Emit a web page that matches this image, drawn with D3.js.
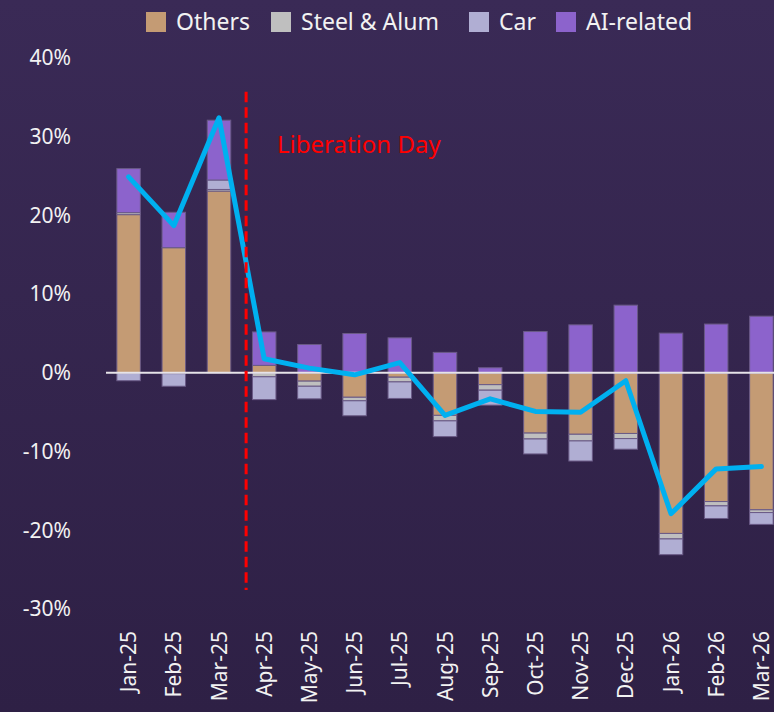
<!DOCTYPE html>
<html>
<head>
<meta charset="utf-8">
<script src="https://cdn.jsdelivr.net/npm/d3@7"></script>
<style>
  html, body { margin: 0; padding: 0; background: #33244d; }
  svg { display: block; }
  text { font-family: "Noto Sans", sans-serif; }
</style>
</head>
<body>
<div id="chart-area"></div>
<script>
const W = 774, H = 712

// data
const months = ["Jan-25","Feb-25","Mar-25","Apr-25","May-25","Jun-25","Jul-25","Aug-25",
  "Sep-25","Oct-25","Nov-25","Dec-25","Jan-26","Feb-26","Mar-26"]
const others = [20.1, 15.9, 23.1, 0.95, -1.05, -3.1, -0.55, -5.4, -1.5, -7.65, -7.8, -7.7, -20.4, -16.35, -17.4]
const steel  = [0.25, -0.1, 0.2, -0.5, -0.65, -0.45, -0.6, -0.7, -0.7, -0.75, -0.85, -0.65, -0.7, -0.55, -0.35]
const car    = [-1.0, -1.6, 1.2, -2.9, -1.6, -1.9, -2.1, -2.0, -1.9, -1.9, -2.55, -1.35, -2.0, -1.6, -1.5]
const ai     = [5.6, 4.5, 7.6, 4.25, 3.6, 5.0, 4.45, 2.6, 0.65, 5.25, 6.1, 8.6, 5.05, 6.2, 7.2]
const total  = [24.9, 18.7, 32.4, 1.8, 0.6, -0.25, 1.3, -5.4, -3.3, -4.9, -5.0, -1.0, -17.9, -12.2, -11.9]
const yTicks = [40, 30, 20, 10, 0, -10, -20, -30]
const seriesNames = ["Others", "Steel & Alum", "Car", "AI-related"]
const eventLabel = "Liberation Day"
const eventSpan = [35.7, -27.6]

const keys = ["others", "steel", "car", "ai"]
const colors = { others: "#c49b74", steel: "#bfbfbf", car: "#b0aed3", ai: "#8c63cc" }

const rows = months.map((m, i) => ({
  month: m, others: others[i], steel: steel[i], car: car[i], ai: ai[i], total: total[i]
}))

const svg = d3.select("#chart-area").append("svg")
  .attr("width", W)
  .attr("height", H)

// background gradient
const grad = svg.append("defs").append("linearGradient")
  .attr("id", "bg")
  .attr("x1", 0).attr("y1", 0).attr("x2", 0).attr("y2", 1)
grad.append("stop").attr("offset", "0%").attr("stop-color", "#3a2a56")
grad.append("stop").attr("offset", "100%").attr("stop-color", "#2e2045")
svg.append("rect").attr("width", W).attr("height", H).attr("fill", "url(#bg)")

// scales
const x = d3.scaleBand().domain(months).range([106, 784]).paddingInner(0.48).paddingOuter(0.24)
const y = d3.scaleLinear().domain([-30, 40]).range([609, 58])

// y axis labels
svg.append("g").selectAll("text")
  .data(yTicks)
  .join("text")
  .attr("x", 71)
  .attr("y", d => y(d))
  .attr("dy", "0.35em")
  .attr("text-anchor", "end")
  .attr("fill", "#f2f2f2")
  .style("font-size", "21px")
  .text(d => d + "%")

// x axis labels
svg.append("g").selectAll("text")
  .data(months)
  .join("text")
  .attr("transform", d => `translate(${x(d) + x.bandwidth() / 2}, 631) rotate(-90)`)
  .attr("dy", "0.36em")
  .attr("text-anchor", "end")
  .attr("fill", "#f2f2f2")
  .style("font-size", "21px")
  .text(d => d)

// stacked bars
const stack = d3.stack().keys(keys).offset(d3.stackOffsetDiverging)
const series = stack(rows)

svg.append("g").selectAll("g")
  .data(series)
  .join("g")
  .attr("fill", d => colors[d.key])
  .selectAll("rect")
  .data(d => d)
  .join("rect")
  .attr("x", d => x(d.data.month))
  .attr("width", x.bandwidth())
  .attr("y", d => y(Math.max(d[0], d[1])))
  .attr("height", d => Math.abs(y(d[0]) - y(d[1])))
  .attr("stroke", "#6a5a86")
  .attr("stroke-width", 1)

// zero line
svg.append("line")
  .attr("x1", 106).attr("x2", W)
  .attr("y1", y(0)).attr("y2", y(0))
  .attr("stroke", "#e6e3e8")
  .attr("stroke-width", 2)

// total line
const line = d3.line()
  .x(d => x(d.month) + x.bandwidth() / 2)
  .y(d => y(d.total))

svg.append("path")
  .datum(rows)
  .attr("fill", "none")
  .attr("stroke", "#00b0f0")
  .attr("stroke-width", 5)
  .attr("stroke-linejoin", "round")
  .attr("stroke-linecap", "round")
  .attr("d", line)

// event marker
const ex = x("Apr-25") + x.bandwidth() / 2 - x.step() * 0.4
svg.append("line")
  .attr("x1", ex).attr("x2", ex)
  .attr("y1", y(eventSpan[0])).attr("y2", y(eventSpan[1]))
  .attr("stroke", "#ff0000")
  .attr("stroke-width", 3)
  .attr("stroke-dasharray", "10.5,5")

svg.append("text")
  .attr("x", 277)
  .attr("y", 153)
  .attr("fill", "#ff0000")
  .style("font-size", "24px")
  .text(eventLabel)

// legend
const legendX = [146, 271, 469, 556]
const legend = svg.append("g").selectAll("g")
  .data(keys)
  .join("g")
  .attr("transform", (d, i) => `translate(${legendX[i]}, 12)`)
legend.append("rect")
  .attr("width", 20).attr("height", 20)
  .attr("fill", d => colors[d])
legend.append("text")
  .attr("x", 30)
  .attr("y", 10)
  .attr("dy", "0.36em")
  .attr("fill", "#f2f2f2")
  .style("font-size", "23px")
  .text((d, i) => seriesNames[i])
</script>
</body>
</html>
